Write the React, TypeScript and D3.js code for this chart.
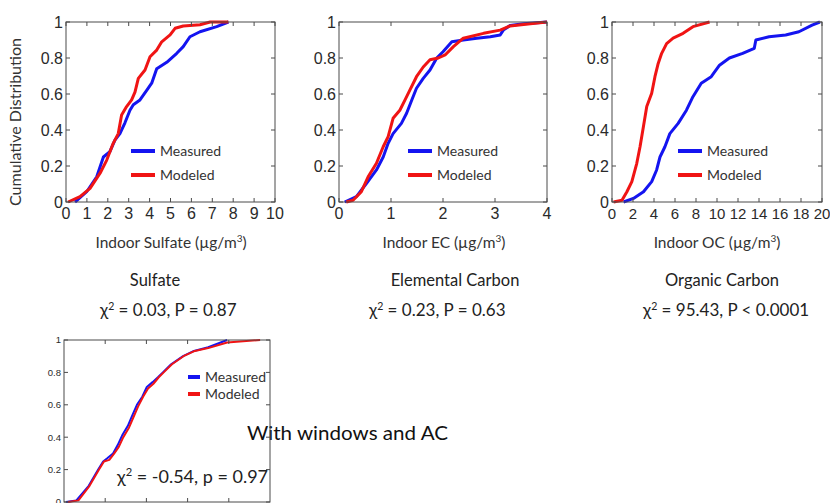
import React from "react";
import * as d3 from "d3";

// Empirical cumulative distributions: [concentration, cumulative fraction]
const sulfateMeasured: [number, number][] = [
  [0.43, 0], [0.99, 0.057], [1.47, 0.14], [1.79, 0.25], [2.1, 0.28], [2.34, 0.344],
  [2.58, 0.38], [2.82, 0.44], [3.06, 0.51], [3.22, 0.54], [3.54, 0.567], [3.86, 0.62],
  [4.1, 0.66], [4.34, 0.74], [4.82, 0.776], [5.3, 0.826], [5.61, 0.863], [5.93, 0.918],
  [6.41, 0.946], [7.21, 0.974], [7.77, 1],
];
const sulfateModeled: [number, number][] = [
  [0.1, 0], [0.67, 0.03], [1.15, 0.076], [1.63, 0.16], [1.95, 0.233], [2.26, 0.326],
  [2.5, 0.38], [2.66, 0.483], [2.9, 0.53], [3.14, 0.567], [3.3, 0.61], [3.46, 0.687],
  [3.78, 0.733], [4.02, 0.807], [4.34, 0.844], [4.58, 0.89], [4.98, 0.928], [5.22, 0.965],
  [5.61, 0.978], [6.41, 0.985], [6.9, 1], [7.77, 1],
];
const ecMeasured: [number, number][] = [
  [0.11, 0], [0.335, 0.03], [0.53, 0.104], [0.72, 0.178], [0.85, 0.25], [0.945, 0.326],
  [1.04, 0.38], [1.2, 0.437], [1.3, 0.493], [1.4, 0.567], [1.49, 0.632], [1.62, 0.687],
  [1.75, 0.733], [1.88, 0.8], [2.0, 0.835], [2.17, 0.89], [2.39, 0.9], [2.65, 0.91],
  [2.91, 0.918], [3.1, 0.928], [3.16, 0.955], [3.29, 0.98], [3.55, 0.99], [4.0, 1],
];
const ecModeled: [number, number][] = [
  [0.14, 0], [0.27, 0.01], [0.43, 0.057], [0.56, 0.14], [0.72, 0.215], [0.85, 0.307],
  [0.945, 0.363], [1.04, 0.465], [1.17, 0.51], [1.27, 0.567], [1.36, 0.62], [1.49, 0.696],
  [1.62, 0.75], [1.75, 0.79], [1.91, 0.8], [2.04, 0.817], [2.2, 0.863], [2.39, 0.91],
  [2.78, 0.937], [3.1, 0.955], [3.29, 0.978], [3.68, 0.99], [4.0, 1],
];
const ocMeasured: [number, number][] = [
  [1.1, 0], [2.04, 0.02], [3.0, 0.057], [3.78, 0.113], [4.25, 0.178], [4.57, 0.25],
  [5.04, 0.307], [5.51, 0.38], [6.3, 0.437], [7.09, 0.51], [7.71, 0.585], [8.5, 0.66],
  [9.45, 0.696], [10.24, 0.76], [11.18, 0.8], [12.44, 0.826], [13.55, 0.854], [13.7, 0.9],
  [14.96, 0.918], [16.54, 0.928], [17.8, 0.946], [19.06, 0.983], [19.8, 1],
];
const ocModeled: [number, number][] = [
  [0.15, 0], [0.95, 0.01], [1.42, 0.057], [1.89, 0.113], [2.36, 0.215], [2.67, 0.307],
  [2.99, 0.418], [3.31, 0.53], [3.78, 0.604], [4.09, 0.696], [4.4, 0.77], [4.73, 0.826],
  [5.2, 0.88], [5.82, 0.91], [6.77, 0.937], [7.71, 0.974], [9.29, 1],
];
const acMeasured: [number, number][] = [
  [0.05, 0], [0.3, 0.01], [0.6, 0.1], [0.83, 0.2], [0.95, 0.25], [1.05, 0.27], [1.19, 0.3],
  [1.3, 0.35], [1.41, 0.41], [1.55, 0.47], [1.65, 0.53], [1.77, 0.6], [1.9, 0.65],
  [2.01, 0.71], [2.15, 0.74], [2.28, 0.77], [2.4, 0.8], [2.6, 0.85], [2.89, 0.9],
  [3.13, 0.93], [3.5, 0.955], [3.96, 1],
];
const acModeled: [number, number][] = [
  [0.1, 0], [0.35, 0.01], [0.62, 0.1], [0.85, 0.2], [0.97, 0.25], [1.1, 0.26], [1.22, 0.3],
  [1.33, 0.34], [1.44, 0.4], [1.58, 0.46], [1.68, 0.52], [1.8, 0.59], [1.92, 0.65],
  [2.04, 0.7], [2.17, 0.73], [2.3, 0.77], [2.42, 0.8], [2.62, 0.85], [2.9, 0.9],
  [3.15, 0.93], [3.5, 0.95], [3.96, 0.985], [4.76, 1],
];

const yTicks = [0, 0.2, 0.4, 0.6, 0.8, 1];
const sulfateTicks = [0, 1, 2, 3, 4, 5, 6, 7, 8, 9, 10];
const ecTicks = [0, 1, 2, 3, 4];
const ocTicks = [0, 2, 4, 6, 8, 10, 12, 14, 16, 18, 20];
const acTicks = [1, 2, 3, 4];

const seriesNames = ["Measured", "Modeled"];
const panelTitles = ["Sulfate", "Elemental Carbon", "Organic Carbon"];
const chiValues = ["0.03", "0.23", "95.43"];
const pValues = ["= 0.87", "= 0.63", "< 0.0001"];

const BLUE = "#1414f0";
const RED = "#f01414";
const SANS = "'Liberation Sans', Arial, sans-serif";
const HUMAN = "Lato, 'Open Sans', sans-serif";

type PanelProps = {
  left: number; right: number; top: number; bottom: number;
  xMax: number; xTicks: number[]; showXLabels: boolean;
  measured: [number, number][]; modeled: [number, number][];
  tickFont: number; xTickFont: number; tickLen: number; strokeW: number;
};

function Panel(p: PanelProps) {
  const x = d3.scaleLinear().domain([0, p.xMax]).range([p.left, p.right]);
  const y = d3.scaleLinear().domain([0, 1]).range([p.bottom, p.top]);
  const line = d3.line<[number, number]>().x((d) => x(d[0])).y((d) => y(d[1]));
  const axisColor = "#4a4a4a";
  return (
    <g>
      <defs>
        <clipPath id={`clip-${p.left}-${p.top}`}>
          <rect x={p.left - 2} y={p.top - 2} width={p.right - p.left + 4} height={p.bottom - p.top + 4} />
        </clipPath>
      </defs>
      <g clipPath={`url(#clip-${p.left}-${p.top})`}>
        <path d={line(p.measured) || ""} fill="none" stroke={BLUE} strokeWidth={p.strokeW} strokeLinejoin="round" />
        <path d={line(p.modeled) || ""} fill="none" stroke={RED} strokeWidth={p.strokeW} strokeLinejoin="round" />
      </g>
      <rect x={p.left} y={p.top} width={p.right - p.left} height={p.bottom - p.top} fill="none" stroke={axisColor} strokeWidth={1} />
      {p.xTicks.map((t) => (
        <g key={`x${t}`}>
          <line x1={x(t)} x2={x(t)} y1={p.bottom} y2={p.bottom - p.tickLen} stroke={axisColor} />
          <line x1={x(t)} x2={x(t)} y1={p.top} y2={p.top + p.tickLen} stroke={axisColor} />
          {p.showXLabels && (
            <text x={x(t)} y={p.bottom + 17} textAnchor="middle" fontFamily={SANS} fontSize={p.xTickFont} fill="#2a2a2a">{t}</text>
          )}
        </g>
      ))}
      {yTicks.map((t) => (
        <g key={`y${t}`}>
          <line x1={p.left} x2={p.left + p.tickLen} y1={y(t)} y2={y(t)} stroke={axisColor} />
          <line x1={p.right} x2={p.right - p.tickLen} y1={y(t)} y2={y(t)} stroke={axisColor} />
          <text x={p.left - 3} y={y(t)} dy="0.36em" textAnchor="end" fontFamily={SANS} fontSize={p.tickFont} fill="#2a2a2a">{t}</text>
        </g>
      ))}
    </g>
  );
}

function Legend({ x, y, gap, len, font, w }: { x: number; y: number; gap: number; len: number; font: number; w: number }) {
  return (
    <g>
      {seriesNames.map((name, i) => (
        <g key={name}>
          <line x1={x} x2={x + len} y1={y + i * gap} y2={y + i * gap} stroke={i === 0 ? BLUE : RED} strokeWidth={w} />
          <text x={x + len + 5} y={y + i * gap} dy="0.35em" fontFamily={HUMAN} fontSize={font} fill="#333">{name}</text>
        </g>
      ))}
    </g>
  );
}

function Chi({ x, y, chi, pText, pLetter, size }: { x: number; y: number; chi: string; pText: string; pLetter: string; size: number }) {
  return (
    <text x={x} y={y} fontFamily={HUMAN} fontSize={size} fill="#222">
      χ<tspan dy={-size * 0.38} fontSize={size * 0.62}>2</tspan>
      <tspan dy={size * 0.38}>{` = ${chi}, ${pLetter} ${pText}`}</tspan>
    </text>
  );
}

export default function App() {
  const top = 22, bottom = 202;
  const panels = [
    { left: 66, right: 275, xMax: 10, xTicks: sulfateTicks, xTickFont: 16, measured: sulfateMeasured, modeled: sulfateModeled, legendX: 131, axisLabel: "Indoor Sulfate", axisX: 171 },
    { left: 339, right: 547, xMax: 4, xTicks: ecTicks, xTickFont: 16, measured: ecMeasured, modeled: ecModeled, legendX: 408, axisLabel: "Indoor EC", axisX: 444 },
    { left: 612, right: 822, xMax: 20, xTicks: ocTicks, xTickFont: 15, measured: ocMeasured, modeled: ocModeled, legendX: 678, axisLabel: "Indoor OC", axisX: 717 },
  ];
  const titleX = [155, 455, 722];
  const chiX = [100, 369, 643];

  return (
    <svg width={830} height={503} style={{ position: "absolute", left: 0, top: 0, background: "#fff" }}>
      <rect width={830} height={503} fill="#fff" />
      <text transform="translate(21,122) rotate(-90)" textAnchor="middle" fontFamily={HUMAN} fontSize={15.5}
        textLength={168} lengthAdjust="spacingAndGlyphs" fill="#333">Cumulative Distribution</text>

      {panels.map((pn, i) => (
        <g key={pn.axisLabel}>
          <Panel left={pn.left} right={pn.right} top={top} bottom={bottom} xMax={pn.xMax} xTicks={pn.xTicks}
            showXLabels measured={pn.measured} modeled={pn.modeled} tickFont={16} xTickFont={pn.xTickFont} tickLen={4} strokeW={3} />
          <Legend x={pn.legendX} y={151} gap={24} len={24} font={14} w={4} />
          <text x={pn.axisX} y={248} textAnchor="middle" fontFamily={HUMAN} fontSize={15.5} fill="#333">
            {pn.axisLabel} (µg/m<tspan dy={-6} fontSize={10}>3</tspan><tspan dy={6}>)</tspan>
          </text>
          <text x={titleX[i]} y={286} textAnchor="middle" fontFamily={HUMAN} fontSize={16.5} fill="#222">{panelTitles[i]}</text>
          <Chi x={chiX[i]} y={316} chi={chiValues[i]} pText={pValues[i]} pLetter="P" size={17} />
        </g>
      ))}

      <text x={247} y={440} fontFamily={HUMAN} fontSize={20} textLength={201} lengthAdjust="spacingAndGlyphs" fill="#111">With windows and AC</text>
      <Panel left={64} right={270} top={340} bottom={502} xMax={5} xTicks={acTicks} showXLabels={false}
        measured={acMeasured} modeled={acModeled} tickFont={9.5} xTickFont={9.5} tickLen={4} strokeW={2} />
      <Legend x={188} y={377} gap={17} len={12} font={14} w={4} />
      <Chi x={117} y={483} chi="-0.54" pText="= 0.97" pLetter="p" size={18} />
    </svg>
  );
}
